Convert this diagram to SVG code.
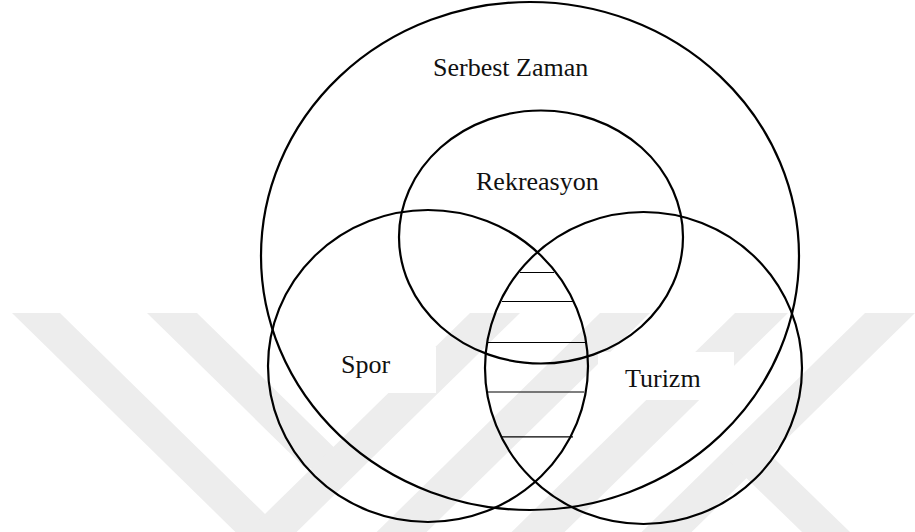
<svg xmlns="http://www.w3.org/2000/svg" width="915" height="532" viewBox="0 0 915 532">
<style>
.wm{fill:#ededed;stroke:none}
.box{fill:#ffffff;stroke:none}
.set{fill:none;stroke:#000;stroke-width:2.2}
.hatch{stroke:#000;stroke-width:1.2}
</style>
<rect x="0" y="0" width="915" height="532" fill="#ffffff"/>
<g id="watermark">
<polygon class="wm" points="12,313 60,313 283.4,532 235.4,532"/>
<polygon class="wm" points="147,313 197,313 355.5,468.4 305.5,468.4"/>
<polygon class="wm" points="470,313 520,313 296.6,532 246.6,532"/>
<polygon class="wm" points="600,313 650,313 426.6,532 376.6,532"/>
<polygon class="wm" points="735,313 788,313 564.6,532 511.6,532"/>
<polygon class="wm" points="865,313 915,313 691.6,532 641.6,532"/>
<polygon class="wm" points="721.6,454 769.6,454 850,532 802,532"/>
</g>
<g id="label-boxes">
<rect class="box" x="325" y="347" width="111" height="46"/>
<rect class="box" x="598" y="352" width="136" height="48"/>
</g>
<g font-family="'Liberation Serif', 'Times New Roman', Times, 'DejaVu Serif', serif" font-size="26" fill="#111">
<g id="serbest-zaman">
<ellipse class="set" cx="530" cy="256" rx="269" ry="254"/>
<text x="433" y="76">Serbest Zaman</text>
</g>
<g id="rekreasyon">
<ellipse class="set" cx="541" cy="237" rx="142" ry="126.5"/>
<text x="476" y="190">Rekreasyon</text>
</g>
<g id="spor">
<ellipse class="set" cx="428" cy="366" rx="160" ry="156"/>
<text x="341" y="373">Spor</text>
</g>
<g id="turizm">
<ellipse class="set" cx="643.5" cy="368" rx="158.5" ry="156"/>
<text x="625" y="387">Turizm</text>
</g>
</g>
<g id="hatch">
<line class="hatch" x1="520" y1="272.5" x2="554" y2="272.5"/>
<line class="hatch" x1="502" y1="301.5" x2="573" y2="301.5"/>
<line class="hatch" x1="487" y1="342.5" x2="585" y2="342.5"/>
<line class="hatch" x1="488" y1="392" x2="584" y2="392"/>
<line class="hatch" x1="502" y1="436.8" x2="573" y2="436.8"/>
</g>
</svg>
